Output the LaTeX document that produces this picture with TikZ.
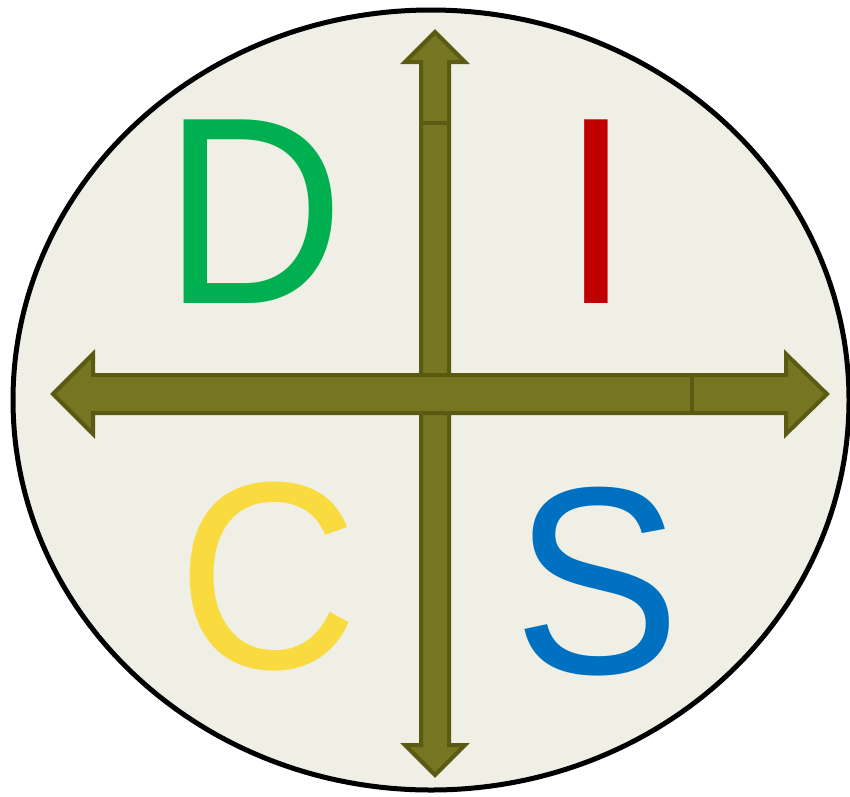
\documentclass[tikz,border=0pt]{standalone}
\usepackage{fontspec}
\setmainfont{Liberation Sans}
\usepackage{tikz}
\definecolor{discbg}{HTML}{EFEFE6}
\definecolor{olivefill}{HTML}{767622}
\definecolor{oliveline}{HTML}{5A5A12}
\definecolor{dgreen}{HTML}{00B050}
\definecolor{ired}{HTML}{C00000}
\definecolor{cyellow}{HTML}{F9DA3F}
\definecolor{sblue}{HTML}{0070C0}
\tikzset{
  arrowbody/.style={fill=olivefill, draw=oliveline, line width=4pt, line join=miter},
  seam/.style={draw=oliveline, line width=4pt},
  letter/.style={inner sep=0pt, font=\fontsize{267}{300}\selectfont},
}
\newcommand{\narrow}[1]{\scalebox{0.94}[1]{#1}}
\begin{document}
\begin{tikzpicture}[x=1pt,y=-1pt]
    \useasboundingbox (0,0) rectangle (850,796);
    % Outer Disc
    \draw[fill=discbg, line width=5pt] (431,400) ellipse [x radius=418, y radius=390];
    % Vertical Arrow
    \draw[arrowbody] (435,32) -- (465,62) -- (449,62) -- (449,745) -- (465,745)
        -- (435,775) -- (405,745) -- (421,745) -- (421,62) -- (405,62) -- cycle;
    \draw[seam] (421,123) -- (449,123);
    % Horizontal Arrow
    \draw[arrowbody] (53,394) -- (93,354) -- (93,375) -- (786,375) -- (786,354)
        -- (827,394) -- (786,434) -- (786,413) -- (93,413) -- (93,434) -- cycle;
    \draw[seam] (692,375) -- (692,413);
    % Letters
    \node[letter, text=dgreen] (dom) at (254,212) {\narrow{D}};
    \node[letter, text=ired] (inf) at (596,212) {\narrow{I}};
    \node[letter, text=cyellow] (con) at (268,577) {\narrow{C}};
    \node[letter, text=sblue] (ste) at (597,582) {\narrow{S}};
\end{tikzpicture}
\end{document}
